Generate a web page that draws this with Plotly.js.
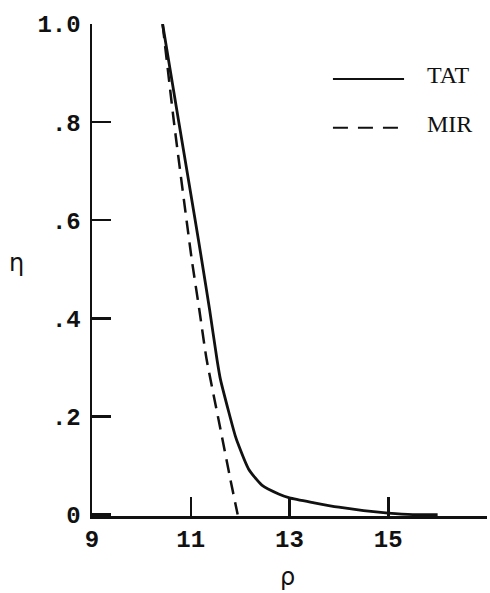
<!DOCTYPE html>
<html>
<head>
<meta charset="utf-8">
<script src="https://cdn.plot.ly/plotly-3.0.1.min.js"></script>
<style>html,body{margin:0;padding:0;background:#fff;}#chart{width:490px;height:593px;}</style>
</head>
<body>
<div id="chart"></div>
<script>
// TAT (solid) curve
var tatRho = [10.43, 10.75, 11.09, 11.22, 11.38, 11.53, 11.60, 11.77, 11.90, 11.97, 12.17, 12.44, 12.78, 13.00, 13.50, 14.00, 14.50, 15.00, 15.50, 16.00];
var tatEta = [1.0, 0.805, 0.60, 0.52, 0.419, 0.317, 0.276, 0.209, 0.161, 0.141, 0.093, 0.060, 0.042, 0.034, 0.024, 0.015, 0.008, 0.003, 0.0, 0.0];
// MIR (dashed) curve
var mirRho = [10.43, 10.66, 11.02, 11.17, 11.32, 11.60, 11.80, 11.95];
var mirEta = [1.0, 0.80, 0.52, 0.42, 0.317, 0.175, 0.073, 0.0];
// ticks
var xTickVals = [9, 11, 13, 15, 17];
var xTickText = ['9', '11', '13', '15', ''];
var yTickVals = [0, 0.2, 0.4, 0.6, 0.8, 1.0];
var yTickText = ['0', '.2', '.4', '.6', '.8', '1.0'];
var seriesNames = ['TAT', 'MIR'];

var ink = '#111';
var mono = 'Liberation Mono, DejaVu Sans Mono, monospace';
var serif = 'Liberation Serif, DejaVu Serif, serif';

var traces = [
  {x: tatRho, y: tatEta, mode: 'lines', name: seriesNames[0], line: {color: ink, width: 2.8, shape: 'spline', smoothing: 0.6}, showlegend: false},
  {x: mirRho, y: mirEta, mode: 'lines', name: seriesNames[1], line: {color: ink, width: 2.5, dash: '14px,8px', shape: 'spline', smoothing: 0.5}, showlegend: false}
];

var layout = {
  width: 490, height: 593,
  margin: {l: 92, r: 3, t: 24, b: 77},
  paper_bgcolor: '#fff', plot_bgcolor: '#fff',
  font: {family: mono, color: ink, size: 23},
  xaxis: {
    range: [9, 17], tickmode: 'array', tickvals: xTickVals, ticktext: xTickText,
    ticks: 'inside', ticklen: 19, tickwidth: 2.5, tickcolor: ink,
    showline: true, linewidth: 2.5, linecolor: ink, mirror: false,
    showgrid: false, zeroline: false, ticklabelstandoff: 0,
    tickfont: {family: mono, size: 24, color: ink, weight: 'bold'}
  },
  yaxis: {
    range: [-0.003, 1.0], tickmode: 'array', tickvals: yTickVals, ticktext: yTickText,
    ticks: 'inside', ticklen: 19, tickwidth: 2.5, tickcolor: ink,
    showline: true, linewidth: 2.5, linecolor: ink, mirror: false,
    showgrid: false, zeroline: false, ticklabelstandoff: 4,
    tickfont: {family: mono, size: 24, color: ink, weight: 'bold'}
  },
  shapes: [
    {type: 'line', xref: 'paper', yref: 'paper', x0: 0.61, x1: 0.79, y0: 0.888, y1: 0.888, line: {color: ink, width: 2}},
    {type: 'line', xref: 'paper', yref: 'paper', x0: 0.61, x1: 0.79, y0: 0.789, y1: 0.789, line: {color: ink, width: 2, dash: '15px,10px'}}
  ],
  annotations: [
    {xref: 'paper', yref: 'paper', x: 0.843, y: 0.896, xanchor: 'left', yanchor: 'middle', text: seriesNames[0], showarrow: false, font: {family: serif, size: 24, color: ink}},
    {xref: 'paper', yref: 'paper', x: 0.843, y: 0.797, xanchor: 'left', yanchor: 'middle', text: seriesNames[1], showarrow: false, font: {family: serif, size: 24, color: ink}},
    {xref: 'paper', yref: 'paper', x: -0.192, y: 0.514, xanchor: 'center', yanchor: 'middle', text: 'η', showarrow: false, font: {family: 'DejaVu Sans, sans-serif', size: 24, color: ink}},
    {xref: 'paper', yref: 'paper', x: 0.494, y: -0.124, xanchor: 'center', yanchor: 'middle', text: 'ρ', showarrow: false, font: {family: 'DejaVu Sans, sans-serif', size: 24, color: ink}}
  ]
};

Plotly.newPlot('chart', traces, layout, {displayModeBar: false, staticPlot: true});
</script>
</body>
</html>
